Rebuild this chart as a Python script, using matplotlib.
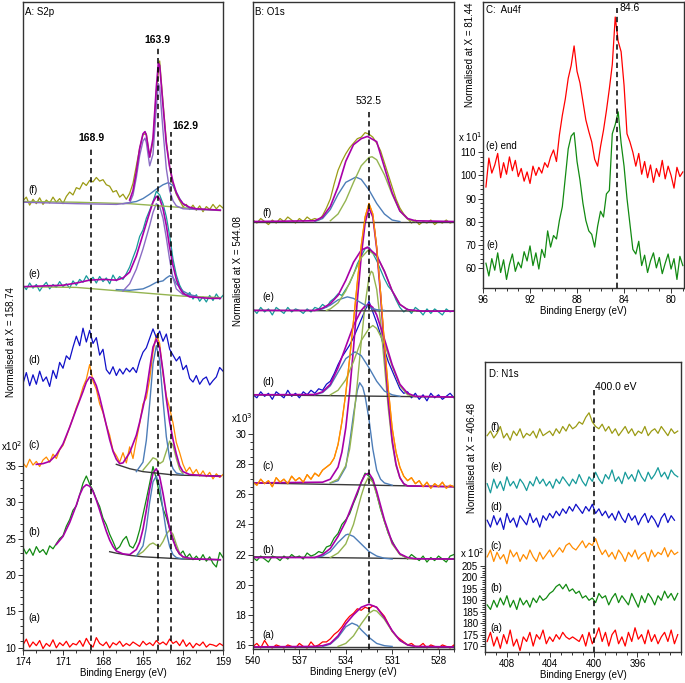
import numpy as np
import matplotlib.pyplot as plt
from matplotlib.ticker import FixedLocator

plt.rcParams['font.family'] = ['Liberation Sans', 'DejaVu Sans']
plt.rcParams['font.size'] = 7

C_RED, C_GRN, C_ORA, C_BLU, C_TEA, C_OLI = '#ff0000', '#128a12', '#ff8c00', '#1010c8', '#179b9b', '#9b9b14'
C_ENV, C_VIO, C_CB, C_CG, C_BKG = '#a800a8', '#8a6cc4', '#4d7db8', '#94b450', '#3a3a3a'

# ---------------- A: S2p  (spectra every 0.25 eV, 174 -> 159)
s2p_a = [10.4, 11.2, 10.1, 10.8, 10.3, 11.0, 9.9, 10.6, 10.2, 11.1, 10.0, 10.7, 10.3, 10.9, 10.1, 10.6, 10.4, 11.0, 10.2, 11.3,
         10.5, 10.1, 11.4, 10.6, 10.3, 10.8, 10.0, 10.7, 10.4, 10.9, 10.2, 10.6, 10.3, 10.8, 10.5, 10.2, 10.9, 10.4, 10.7, 10.3,
         11.0, 10.5, 10.8, 10.4, 11.2, 10.6, 10.9, 10.3, 11.1, 10.2, 10.7, 10.0, 10.6, 10.3, 10.8, 10.1, 10.5, 10.4, 10.2, 10.6, 10.3]
s2p_b = [23.8, 22.9, 23.6, 22.7, 23.9, 23.1, 23.5, 22.8, 24.0, 23.6, 24.3, 25.0, 25.4, 26.7, 27.6, 28.9, 29.5, 31.0, 32.6, 33.6,
         32.5, 31.6, 30.4, 29.4, 27.8, 26.9, 25.6, 24.6, 23.5, 23.9, 24.8, 25.3, 24.0, 23.7, 24.6, 26.2, 28.3, 30.4, 32.6, 34.9,
         33.2, 31.0, 29.1, 27.9, 26.3, 25.0, 23.6, 22.8, 23.3, 22.4, 22.9, 22.1, 22.6, 22.0, 22.8, 21.9, 22.5, 21.6, 21.1, 23.1, 22.4]
s2p_c = [35.4, 34.8, 35.9, 35.1, 35.6, 34.9, 35.8, 36.2, 35.5, 36.6, 36.0, 37.2, 37.8, 39.0, 40.3, 41.6, 43.0, 44.2, 45.8, 46.9,
         48.9, 46.6, 45.5, 43.5, 42.3, 40.6, 39.2, 37.1, 36.4, 35.5, 36.8, 35.4, 37.6, 36.0, 38.5, 40.8, 43.5, 44.3, 46.9, 50.6,
         53.0, 51.8, 47.6, 44.6, 42.9, 40.9, 38.2, 36.8, 35.2, 34.2, 34.8, 33.9, 34.5, 33.6, 34.3, 33.5, 34.1, 33.2, 33.9, 33.4, 33.8]
s2p_d = [46.3, 47.8, 46.0, 47.5, 46.2, 48.0, 46.6, 47.2, 45.9, 48.1, 47.0, 49.2, 48.4, 50.1, 49.6, 51.3, 52.8, 51.5, 53.9, 52.0,
         53.6, 51.8, 52.6, 50.2, 51.0, 48.2, 47.6, 48.6, 47.4, 48.3, 47.6, 48.4, 47.9, 48.5, 47.8, 49.4, 50.6, 51.2, 52.5, 53.8,
         52.6, 53.5, 52.1, 53.1, 51.0, 50.2, 49.4, 50.0, 48.2, 48.8, 47.0, 46.5, 47.4, 46.2, 46.9, 47.2, 46.1, 46.7, 47.2, 48.5, 48.0]
s2p_e = [59.8, 59.2, 60.1, 59.4, 59.9, 59.0, 59.7, 60.2, 59.3, 59.9, 59.5, 60.3, 59.6, 60.0, 59.4, 60.4, 59.8, 60.6, 60.2, 61.1,
         60.4, 60.9, 60.1, 61.0, 60.3, 60.8, 60.0, 61.2, 60.4, 61.0, 60.6, 61.4, 62.3, 63.6, 64.8, 66.5, 67.4, 69.0, 70.1, 71.3,
         72.7, 72.2, 71.0, 69.2, 66.6, 63.4, 61.2, 59.8, 58.9, 58.3, 58.8, 57.9, 58.5, 57.6, 58.2, 57.5, 58.4, 57.7, 58.6, 57.9, 58.4]
s2p_f = [71.4, 71.9, 70.8, 71.6, 71.0, 71.8, 70.9, 71.5, 71.1, 71.9, 71.2, 71.7, 71.0, 72.0, 72.6, 72.2, 73.2, 73.0, 73.9, 73.5,
         74.2, 74.0, 74.6, 74.1, 74.3, 73.6, 73.4, 72.6, 72.8, 71.9, 72.3, 71.6, 72.4, 73.8, 76.2, 78.6, 80.5, 80.6, 77.4, 79.5,
         86.5, 90.6, 85.0, 79.6, 76.0, 73.6, 72.3, 71.4, 70.6, 70.9, 70.2, 70.8, 70.1, 70.7, 69.9, 70.6, 70.2, 70.9, 70.3, 70.8, 70.4]

# fitted curves (energy list, intensity list)
s2p_b_bkg = ([167.5, 167, 166, 165, 164, 163, 162, 159.2], [23.2, 23.0, 22.7, 22.5, 22.4, 22.3, 22.2, 22.1])
s2p_b_env = ([171.5, 171, 170.5, 170, 169.75, 169.5, 169.25, 169, 168.75, 168.5, 168.25, 168, 167.75, 167.5, 167.25, 167,
              166.5, 166, 165.5, 165.25, 165, 164.75, 164.5, 164.25, 164, 163.75, 163.5, 163.25, 163, 162.75, 162.5, 162.25,
              162, 161.5, 161, 160, 159.2],
             [24.2, 25.3, 27.2, 29.6, 31.0, 32.0, 32.4, 32.2, 31.5, 30.3, 28.9, 27.4, 26.0, 24.8, 23.9, 23.3, 22.9, 22.8, 23.5,
              24.5, 26.3, 28.9, 31.8, 34.0, 34.6, 33.5, 31.2, 28.6, 26.4, 24.8, 23.6, 22.9, 22.5, 22.3, 22.2, 22.15, 22.1])
s2p_b_p1 = ([165.5, 165, 164.75, 164.5, 164.25, 164, 163.75, 163.5, 163.25, 163, 162.75, 162.5, 162],
            [22.6, 24.0, 26.5, 30.0, 32.8, 33.6, 32.2, 29.0, 25.9, 23.9, 22.8, 22.4, 22.2])
s2p_b_p2 = ([165.5, 165, 164.5, 164.25, 164, 163.75, 163.5, 163.25, 163, 162.75, 162.5, 162.25, 162],
            [22.6, 23.2, 24.2, 24.4, 24.1, 23.9, 24.6, 25.6, 26.2, 25.6, 24.2, 23.0, 22.4])

s2p_c_bkg = ([167, 166, 165, 164, 163, 162, 159.2], [35.2, 34.6, 34.2, 34.0, 33.8, 33.7, 33.6])
s2p_c_env = ([173, 172.5, 172, 171.5, 171, 170.5, 170, 169.5, 169.25, 169, 168.75, 168.5, 168.25, 168, 167.5, 167.25, 167,
              166.75, 166.5, 166, 165.5, 165.25, 165, 164.75, 164.5, 164.25, 164, 163.75, 163.5, 163.25, 163, 162.75, 162.5,
              162.25, 162, 161.5, 160, 159.2],
             [35.2, 35.3, 35.6, 36.5, 38.0, 40.3, 42.8, 45.2, 46.5, 47.2, 47.0, 46.0, 44.4, 42.5, 38.6, 37.0, 35.9, 35.3, 35.4,
              36.8, 39.2, 41.0, 43.0, 45.2, 48.3, 51.3, 52.4, 51.2, 48.0, 44.2, 41.0, 38.6, 36.6, 35.0, 34.2, 33.8, 33.6, 33.55])
s2p_c_p1 = ([165.5, 165, 164.75, 164.5, 164.25, 164, 163.75, 163.5, 163.25, 163, 162.75, 162.5, 162],
            [34.2, 35.5, 38.5, 43.5, 49.0, 51.5, 49.5, 44.0, 39.0, 36.0, 34.6, 34.0, 33.8])
s2p_c_p2 = ([165, 164.5, 164.25, 164, 163.75, 163.5, 163.25, 163, 162.75, 162.5, 162.25, 162],
            [34.4, 35.5, 36.1, 35.9, 35.3, 35.6, 37.0, 38.4, 37.8, 36.0, 34.5, 33.9])

s2p_e_bkg = ([174, 170, 168, 166, 164, 162, 159.2], [59.6, 59.5, 59.2, 58.9, 58.6, 58.3, 58.1])
s2p_e_env = ([174, 171, 170, 169, 168, 167, 166.5, 166, 165.5, 165, 164.5, 164.25, 164, 163.75, 163.5, 163.25, 163, 162.75,
              162.5, 162.25, 162, 161.5, 160, 159.2],
             [59.6, 59.8, 60.1, 60.5, 60.6, 60.5, 60.8, 61.6, 63.8, 66.8, 69.8, 71.2, 72.0, 71.7, 70.3, 68.0, 65.0, 62.5, 60.6,
              59.4, 58.7, 58.2, 58.0, 58.0])
s2p_e_p1 = ([166.5, 166, 165.5, 165, 164.5, 164.25, 164, 163.75, 163.5, 163.25, 163, 162.75, 162.5, 162, 161],
            [59.0, 60.0, 62.0, 64.8, 68.0, 69.8, 71.0, 70.6, 69.0, 66.3, 63.3, 60.8, 59.3, 58.5, 58.2])
s2p_e_p2 = ([167, 166, 165, 164.5, 164, 163.5, 163.25, 163, 162.75, 162.5, 162, 161.5, 161],
            [59.2, 59.1, 59.3, 59.7, 60.2, 60.4, 60.8, 61.1, 60.9, 60.0, 59.0, 58.5, 58.3])

s2p_f_bkg = ([174, 170, 166, 163, 160, 159.2], [71.3, 71.2, 71.0, 70.6, 70.15, 70.05])
s2p_f_env = ([166, 165.75, 165.5, 165.25, 165, 164.85, 164.75, 164.5, 164.25, 164, 163.85, 163.75, 163.5, 163.25, 163,
              162.75, 162.5, 162.25, 162, 161.5, 161, 160, 159.2],
             [71.5, 72.8, 75.4, 78.6, 80.6, 80.9, 80.4, 77.4, 80.0, 87.0, 90.3, 90.0, 84.5, 79.2, 76.0, 74.0, 72.5, 71.6,
              71.0, 70.5, 70.3, 70.2, 70.1])
s2p_f_p1 = ([174, 170, 167, 166, 165.75, 165.5, 165.25, 165, 164.85, 164.75, 164.5, 164.25, 164, 163.85, 163.75, 163.5,
             163.25, 163, 162.75, 162.5, 162, 161, 159.2],
            [71.2, 71.0, 70.9, 71.1, 72.2, 74.6, 77.6, 79.6, 80.0, 79.4, 76.2, 77.8, 84.2, 87.5, 87.0, 81.0, 75.8, 72.8,
             71.4, 70.7, 70.3, 70.2, 70.1])
s2p_f_p2 = ([166.5, 165.5, 165, 164.5, 164, 163.5, 163.1, 162.75, 162.5, 162.25, 162, 161.5, 161],
            [71.0, 71.3, 71.7, 72.3, 73.0, 73.6, 73.9, 73.5, 72.6, 71.7, 71.0, 70.4, 70.2])

s2p_peaks = [168.9, 163.9, 162.9]
s2p_peak_tops = [78.8, 92.5, 80.85]

# ---------------- B: O1s  (spectra every 0.25 eV, 540 -> 527)
o1s_a = [15.9, 16.1, 15.8, 16.3, 15.9, 15.8, 16.0, 15.9, 15.8, 16.0, 15.9, 15.8, 16.1, 15.9, 15.8, 16.2, 15.9, 16.0,
         16.2, 16.2, 16.4, 16.7, 16.9, 17.2, 17.6, 17.9, 18.1, 18.4, 18.3, 18.5, 18.4, 18.6, 18.5, 18.2, 17.9, 17.4,
         16.9, 16.6, 16.4, 16.2, 16.0, 16.1, 15.9, 15.9, 16.1, 15.8, 16.0, 15.9, 15.8, 16.0, 15.9, 15.8, 16.0]
o1s_b = [21.8, 21.6, 21.9, 21.7, 21.5, 21.9, 21.8, 21.6, 21.9, 21.7, 22.0, 21.8, 21.9, 21.7, 22.1, 21.9, 22.0, 22.2,
         22.1, 22.5, 22.6, 23.1, 23.4, 24.0, 24.3, 24.7, 25.4, 26.0, 26.8, 27.4, 27.2, 26.9, 26.0, 25.0, 24.2, 23.4,
         22.9, 22.4, 22.0, 21.9, 21.7, 22.0, 21.8, 21.6, 21.9, 21.5, 21.8, 21.6, 21.9, 21.7, 21.5, 21.9, 22.0]
o1s_c = [26.8, 26.6, 27.0, 26.7, 26.9, 26.5, 27.1, 26.8, 27.0, 26.7, 27.2, 26.9, 27.1, 26.8, 27.3, 27.0, 27.4, 27.2,
         27.6, 27.8, 28.0, 28.4, 29.3, 30.8, 32.7, 35.0, 37.5, 40.1, 42.5, 44.4, 45.3, 44.6, 42.4, 39.4, 36.0, 33.0,
         30.4, 28.8, 27.8, 27.2, 26.9, 27.1, 26.7, 26.9, 26.5, 26.8, 26.4, 26.7, 26.5, 26.8, 26.4, 26.6, 26.5]
o1s_d = [32.6, 32.4, 32.8, 32.5, 32.7, 32.3, 32.8, 32.6, 32.4, 32.9, 32.5, 32.7, 32.4, 32.8, 32.6, 32.9, 32.7, 33.0,
         32.9, 33.3, 33.5, 34.0, 34.6, 35.1, 35.5, 35.9, 36.4, 37.0, 37.6, 38.2, 38.8, 38.1, 37.4, 36.6, 35.6, 34.8,
         34.2, 33.6, 33.0, 32.7, 32.8, 32.4, 32.7, 32.3, 32.6, 32.2, 32.7, 32.4, 32.6, 32.3, 32.5, 32.7, 32.4]
o1s_e = [38.3, 38.0, 38.4, 38.1, 38.3, 37.9, 38.4, 38.2, 38.0, 38.4, 38.1, 38.3, 38.2, 38.0, 38.3, 38.1, 38.4, 38.3,
         38.6, 38.4, 38.8, 39.0, 39.3, 39.2, 39.6, 40.0, 40.6, 41.3, 41.8, 42.3, 42.4, 42.0, 41.5, 40.9, 40.3, 39.8,
         39.5, 38.9, 38.4, 38.1, 38.3, 38.0, 38.4, 38.2, 37.9, 38.3, 38.0, 38.3, 38.1, 37.9, 38.3, 38.1, 38.2]
o1s_f = [44.2, 44.0, 44.3, 44.1, 43.9, 44.2, 44.0, 44.3, 44.1, 44.4, 44.2, 44.0, 44.3, 44.1, 44.4, 44.2, 44.3, 44.2,
         44.5, 45.0, 45.6, 46.6, 47.5, 48.1, 48.6, 49.0, 49.3, 49.6, 49.7, 50.0, 49.9, 49.7, 49.3, 48.8, 48.0, 47.2,
         46.4, 45.6, 45.0, 44.6, 44.3, 44.0, 44.2, 43.9, 44.1, 44.0, 44.2, 43.9, 44.1, 44.0, 44.2, 44.0, 44.1]

o1s_fits = {
    'a': dict(bkg=([540, 527], [15.87, 15.87]),
              env=([540, 536, 535.5, 535, 534.5, 534, 533.5, 533, 532.5, 532, 531.5, 531, 530.5, 530, 529.5, 527],
                   [15.87, 15.9, 15.95, 16.1, 16.6, 17.4, 18.0, 18.5, 18.7, 18.5, 17.8, 16.95, 16.3, 16.0, 15.9, 15.87]),
              p1=([535.5, 535, 534.5, 534, 533.6, 533.25, 533, 532.5, 532, 531.5, 531],
                  [15.9, 16.05, 16.5, 17.2, 17.45, 17.3, 17.0, 16.5, 16.1, 15.95, 15.9]),
              p2=([534.5, 534, 533.5, 533, 532.5, 532.2, 532, 531.5, 531, 530.5, 530, 529.5],
                  [15.9, 16.1, 16.6, 17.4, 18.1, 18.3, 18.25, 17.7, 16.9, 16.3, 16.0, 15.9])),
    'b': dict(bkg=([540, 527], [21.85, 21.7]),
              env=([540, 536, 535.5, 535, 534.5, 534, 533.5, 533, 532.75, 532.5, 532.25, 532, 531.5, 531, 530.5, 530, 529.5, 527],
                   [21.8, 21.8, 22.0, 22.4, 23.2, 24.2, 25.5, 26.8, 27.3, 27.4, 27.0, 26.2, 24.3, 22.8, 22.05, 21.8, 21.72, 21.7]),
              p1=([536, 535.5, 535, 534.5, 534, 533.85, 533.5, 533, 532.5, 532, 531.5, 531],
                  [21.8, 21.9, 22.2, 22.8, 23.3, 23.35, 23.2, 22.7, 22.2, 21.9, 21.75, 21.7]),
              p2=([535, 534.5, 534, 533.5, 533, 532.75, 532.55, 532.25, 532, 531.5, 531, 530.5, 530, 529.5],
                  [21.8, 22.1, 22.7, 24.0, 25.9, 26.7, 27.1, 26.8, 26.0, 24.2, 22.7, 22.0, 21.75, 21.7])),
    'c': dict(bkg=([540, 527], [26.75, 26.5]),
              env=([540, 535.5, 535, 534.5, 534.25, 534, 533.75, 533.5, 533.25, 533, 532.75, 532.5, 532.25, 532, 531.75,
                    531.5, 531.25, 531, 530.75, 530.5, 530.25, 530, 527],
                   [26.75, 26.8, 27.0, 27.8, 28.8, 30.4, 32.8, 35.7, 38.9, 41.8, 44.0, 45.0, 44.4, 42.3, 39.2, 35.6, 32.2,
                    29.6, 28.0, 27.1, 26.7, 26.55, 26.5]),
              p1=([535, 534.5, 534, 533.75, 533.5, 533.25, 533.1, 532.9, 532.75, 532.5, 532.25, 532, 531.75, 531.5, 531],
                  [26.75, 26.9, 27.8, 29.4, 31.3, 32.9, 33.4, 33.1, 32.5, 31.0, 29.0, 27.6, 27.0, 26.75, 26.6]),
              p2=([535, 534.5, 534, 533.75, 533.5, 533.25, 533, 532.75, 532.5, 532.35, 532.25, 532, 531.75, 531.5, 531.25,
                   531, 530.75, 530.5, 530.25, 530],
                  [26.75, 27.0, 27.9, 29.0, 30.9, 33.4, 36.1, 38.6, 40.4, 40.8, 40.7, 39.6, 37.4, 34.6, 31.7, 29.4, 27.9,
                   27.1, 26.7, 26.55])),
    'd': dict(bkg=([540, 527], [32.6, 32.45]),
              env=([540, 536, 535.5, 535, 534.5, 534, 533.5, 533, 532.75, 532.5, 532.25, 532, 531.5, 531, 530.5, 530, 529.5, 527],
                   [32.6, 32.62, 32.8, 33.3, 34.4, 35.8, 37.2, 38.2, 38.5, 38.6, 38.4, 37.9, 36.3, 34.6, 33.3, 32.7, 32.5, 32.45]),
              p1=([536, 535.5, 535, 534.5, 534, 533.4, 533, 532.5, 532, 531.5, 531, 530.5],
                  [32.6, 32.75, 33.2, 34.1, 35.0, 35.45, 35.2, 34.4, 33.5, 32.85, 32.6, 32.5]),
              p2=([535, 534.5, 534, 533.5, 533, 532.5, 532.25, 532, 531.5, 531, 530.5, 530, 529.5],
                  [32.6, 32.9, 33.6, 34.8, 36.2, 37.0, 37.2, 37.0, 36.0, 34.5, 33.2, 32.6, 32.5])),
    'e': dict(bkg=([540, 527], [38.2, 38.15]),
              env=([540, 536, 535.5, 535, 534.5, 534, 533.5, 533, 532.6, 532, 531.5, 531, 530.5, 530, 529, 527],
                   [38.2, 38.2, 38.35, 38.65, 39.2, 40.2, 41.4, 42.2, 42.4, 41.85, 40.8, 39.5, 38.6, 38.25, 38.15, 38.15]),
              p1=([536, 535.5, 535, 534.5, 533.9, 533.5, 533, 532.5, 532, 531.5],
                  [38.2, 38.3, 38.55, 38.9, 39.1, 39.0, 38.7, 38.4, 38.25, 38.2]),
              p2=([535.25, 535, 534.5, 534, 533.5, 533, 532.55, 532, 531.5, 531, 530.5, 530, 529.5],
                  [38.2, 38.3, 38.7, 39.5, 40.6, 41.7, 42.2, 41.8, 40.8, 39.5, 38.6, 38.25, 38.15])),
    'f': dict(bkg=([540, 527], [44.1, 44.1]),
              env=([540, 536, 535.5, 535, 534.5, 534, 533.5, 533, 532.6, 532, 531.5, 531, 530.5, 530, 529.5, 527],
                   [44.1, 44.15, 44.4, 45.1, 46.4, 48.1, 49.2, 49.6, 49.75, 49.4, 47.7, 46.0, 44.8, 44.3, 44.15, 44.1]),
              p1=([536, 535.5, 535, 534.5, 534, 533.35, 533, 532.5, 532, 531.5, 531, 530.5],
                  [44.1, 44.3, 44.9, 45.9, 46.7, 47.05, 46.9, 46.2, 45.3, 44.6, 44.2, 44.1]),
              p2=([535, 534.5, 534, 533.5, 533, 532.5, 532.3, 532, 531.5, 531, 530.5, 530, 529.5],
                  [44.15, 44.6, 45.5, 46.7, 47.8, 48.35, 48.4, 48.2, 47.2, 45.9, 44.8, 44.25, 44.1])),
}
o1s_peak, o1s_peak_top = 532.5, 51.6

# ---------------- C: Au4f  (every 0.25 eV, 95.75 -> 79)
au_end = [95.0, 107.5, 101.0, 104.5, 109.5, 99.0, 105.5, 100.5, 108.0, 102.0, 106.5, 99.5, 103.0, 97.5, 101.5, 96.5, 104.0,
          100.0, 103.5, 101.0, 105.5, 103.5, 108.0, 111.0, 106.0, 117.5, 126.0, 133.0, 142.0, 147.5, 156.0, 145.0, 140.0,
          132.0, 124.0, 119.0, 114.5, 107.0, 104.0, 112.5, 119.5, 128.0, 137.5, 148.0, 168.5, 158.0, 153.5, 139.0, 118.0,
          114.5, 110.0, 104.0, 109.5, 100.5, 106.0, 99.0, 104.5, 97.0, 103.0, 99.5, 106.5, 98.5, 104.0, 100.0, 94.5, 103.5,
          99.5, 101.5]
au_e = [62.0, 56.5, 64.0, 59.0, 66.5, 58.0, 63.5, 55.0, 61.5, 66.0, 58.5, 62.5, 60.0, 67.0, 63.0, 69.5, 61.0, 66.5, 59.5,
        68.0, 64.5, 76.0, 69.0, 74.0, 72.5, 80.5, 86.5, 99.0, 111.5, 117.0, 118.5, 106.0, 98.0, 88.0, 80.5, 76.0, 74.5, 69.0,
        78.0, 84.5, 82.0, 92.0, 93.5, 118.0, 122.0, 127.5, 114.0, 104.0, 90.0, 79.0, 68.0, 66.0, 71.5, 61.0, 65.5, 58.0,
        63.0, 66.5, 60.0, 64.5, 57.5, 62.0, 66.0, 59.5, 64.0, 55.0, 65.0, 61.0]
au_peak, au_peak_top = 84.6, 172.2

# ---------------- D: N1s  (409.8 -> 392.3, d ends at 392.6)
n1s_a = [172, 176, 170, 174, 169, 175, 171, 177, 170, 173, 168, 174, 172, 176, 170, 175, 173, 177, 171, 174, 172, 175, 173,
         176, 174, 173, 174, 173, 172, 175, 170, 176, 171, 174, 178, 172, 176, 170, 175, 177, 171, 174, 170, 176, 172, 178,
         173, 175, 171, 177, 172, 175, 171, 174, 176, 172, 177, 171, 175]
n1s_b = [188, 186, 190, 187, 191, 188, 192, 187, 190, 186, 191, 188, 190, 187, 191, 189, 192, 190, 191, 193, 194, 196, 197,
         195, 197, 194, 195, 193, 194, 191, 192, 190, 191, 189, 193, 191, 192, 188, 191, 193, 189, 192, 190, 188, 193, 190,
         187, 192, 189, 193, 191, 188, 192, 190, 194, 191, 193, 190, 193]
n1s_c = [209, 212, 207, 211, 208, 210, 206, 212, 209, 211, 207, 210, 208, 212, 209, 207, 211, 208, 210, 212, 209, 211, 213,
         211, 214, 215, 213, 212, 214, 216, 213, 215, 214, 217, 213, 210, 212, 209, 211, 208, 212, 210, 207, 211, 209, 212,
         208, 210, 211, 207, 212, 209, 211, 210, 213, 209, 212, 210, 211]
n1s_d = [225, 222, 227, 223, 226, 221, 228, 224, 226, 222, 227, 225, 223, 228, 224, 226, 222, 227, 225, 228, 226, 229, 227,
         230, 228, 231, 229, 232, 230, 228, 231, 229, 232, 228, 230, 227, 229, 226, 228, 225, 229, 226, 224, 228, 225, 227,
         223, 226, 228, 224, 227, 225, 222, 226, 228, 224, 227, 225]
n1s_e = [241, 237, 243, 239, 242, 238, 244, 240, 242, 239, 243, 241, 238, 242, 240, 244, 241, 243, 240, 242, 239, 243, 241,
         244, 242, 240, 243, 241, 245, 242, 240, 244, 242, 246, 243, 241, 245, 243, 247, 242, 244, 241, 246, 243, 245, 242,
         247, 244, 242, 246, 243, 245, 248, 244, 246, 243, 247, 245, 244]
n1s_f = [262, 264, 261, 263, 266, 261, 263, 260, 264, 262, 265, 261, 263, 262, 264, 261, 265, 262, 263, 264, 262, 265, 263,
         266, 264, 267, 265, 266, 268, 267, 270, 272, 268, 266, 265, 267, 264, 266, 263, 265, 262, 264, 266, 263, 265, 262,
         264, 263, 266, 262, 264, 265, 263, 266, 264, 262, 265, 263, 264]
n1s_peak, n1s_peak_top = 400.0, 282.0

# ---------------------------------------------------------------
W, H = 685, 683
fig = plt.figure(figsize=(W / 100, H / 100), dpi=100)


def px_axes(x0, y0, x1, y1):
    return fig.add_axes([x0 / W, 1 - y1 / H, (x1 - x0) / W, (y1 - y0) / H])


def spectrum(ax, lo, hi, ys, color):
    ax.plot(np.linspace(lo, hi, len(ys)), ys, color=color, lw=0.9)


def curve(ax, xy, color, lw=1.0):
    ax.plot(xy[0], xy[1], color=color, lw=lw)


def style(ax, xlim, ylim, xmaj, xmin, ymaj, ymin):
    ax.set_xlim(*xlim)
    ax.set_ylim(*ylim)
    ax.xaxis.set_major_locator(FixedLocator(xmaj))
    ax.xaxis.set_minor_locator(FixedLocator(xmin))
    ax.yaxis.set_major_locator(FixedLocator(ymaj))
    ax.yaxis.set_minor_locator(FixedLocator(ymin))
    ax.tick_params(which='both', direction='out', width=0.7, labelsize=7, pad=1.5, color='#333333')
    ax.tick_params(which='major', length=3.5)
    ax.tick_params(which='minor', length=2)
    for s in ax.spines.values():
        s.set_linewidth(1.0)
        s.set_color('#333333')
    ax.set_xlabel('Binding Energy (eV)', fontsize=7, labelpad=1)


def ftext(x, y, s):
    fig.text(x / W, 1 - y / H, s, fontsize=7, va='center', ha='left')


# ---- A
axA = px_axes(23, 2, 223, 650)
for ys, c in [(s2p_a, C_RED), (s2p_b, C_GRN), (s2p_c, C_ORA), (s2p_d, C_BLU), (s2p_e, C_TEA), (s2p_f, C_OLI)]:
    spectrum(axA, 174, 159, ys, c)
for bkg, env, p1, p2, c1 in [(s2p_b_bkg, s2p_b_env, s2p_b_p1, s2p_b_p2, C_CB),
                             (s2p_c_bkg, s2p_c_env, s2p_c_p1, s2p_c_p2, C_CB),
                             (s2p_e_bkg, s2p_e_env, s2p_e_p1, s2p_e_p2, C_VIO),
                             (s2p_f_bkg, s2p_f_env, s2p_f_p1, s2p_f_p2, C_VIO)]:
    curve(axA, bkg, C_BKG if c1 == C_CB else C_CG)
    curve(axA, p2, C_CG if c1 == C_CB else C_CB)
    curve(axA, p1, c1)
    curve(axA, env, C_ENV, 1.2)
style(axA, (174, 159), (9.7, 98.7), [174, 171, 168, 165, 162, 159], np.arange(159, 174.5, 1),
      [10, 15, 20, 25, 30, 35], np.arange(10, 35.5, 1))
axA.vlines(s2p_peaks, 9.7, s2p_peak_tops, colors='k', linestyles=(0, (3.5, 2.5)), lw=1.1)
axA.text(s2p_peaks[0], s2p_peak_tops[0] + 0.5, f'{s2p_peaks[0]:.1f}', ha='center', va='bottom', fontsize=7.5, fontweight='bold')
axA.text(s2p_peaks[1], s2p_peak_tops[1] + 0.3, f'{s2p_peaks[1]:.1f}', ha='center', va='bottom', fontsize=7.5, fontweight='bold')
axA.text(s2p_peaks[2] - 0.1, s2p_peak_tops[2] + 0.1, f'{s2p_peaks[2]:.1f}', ha='left', va='bottom', fontsize=7.5, fontweight='bold')
for lab, yv in zip('abcdef', [14.1, 25.9, 37.9, 49.5, 61.35, 72.9]):
    axA.text(173.6, yv, f'({lab})', fontsize=7, va='center', ha='left')
axA.text(0.012, 0.993, 'A: S2p', transform=axA.transAxes, fontsize=7, va='top')
axA.set_ylabel('Normalised at X = 158.74', fontsize=7)
axA.yaxis.set_label_coords(-0.035, 0.475)
ftext(1, 446, 'x10$^2$')

# ---- B
axB = px_axes(253, 2, 454, 649)
for key, ys, c in [('a', o1s_a, C_RED), ('b', o1s_b, C_GRN), ('c', o1s_c, C_ORA),
                   ('d', o1s_d, C_BLU), ('e', o1s_e, C_TEA), ('f', o1s_f, C_OLI)]:
    spectrum(axB, 540, 527, ys, c)
for key in 'abcdef':
    fit = o1s_fits[key]
    curve(axB, fit['bkg'], C_BKG)
    curve(axB, fit['p1'], C_CB)
    curve(axB, fit['p2'], C_CG)
    curve(axB, fit['env'], C_ENV, 1.2)
spectrum(axB, 540, 527, o1s_c, C_ORA)
style(axB, (540, 527), (15.73, 58.67), [540, 537, 534, 531, 528], np.arange(527, 540.5, 1),
      list(range(16, 31, 2)), np.arange(16, 30.25, 0.5))
axB.vlines(o1s_peak, 15.73, o1s_peak_top, colors='k', linestyles=(0, (3.5, 2.5)), lw=1.1)
axB.text(o1s_peak, o1s_peak_top + 0.2, f'{o1s_peak:.1f}', ha='center', va='bottom', fontsize=7.5)
for lab, yv in zip('abcdef', [16.66, 22.3, 27.9, 33.45, 39.1, 44.67]):
    axB.text(539.42, yv, f'({lab})', fontsize=7, va='center', ha='left')
axB.text(0.012, 0.993, 'B: O1s', transform=axB.transAxes, fontsize=7, va='top')
axB.set_ylabel('Normalised at X = 544.08', fontsize=7)
axB.yaxis.set_label_coords(-0.05, 0.584)
ftext(231, 418, 'x10$^3$')

# ---- C
axC = px_axes(483, 2, 684, 288)
spectrum(axC, 95.75, 79, au_end, C_RED)
spectrum(axC, 95.75, 79, au_e, C_GRN)
style(axC, (96, 78.9), (51.3, 175), [96, 92, 88, 84, 80], np.arange(79, 96.5, 1),
      [60, 70, 80, 90, 100, 110], np.arange(60, 110.5, 2))
axC.vlines(au_peak, 51.3, au_peak_top, colors='k', linestyles=(0, (3.5, 2.5)), lw=1.1)
axC.text(au_peak - 0.25, au_peak_top, f'{au_peak:.1f}', ha='left', va='center', fontsize=7.5)
axC.text(95.75, 112.6, '(e) end', fontsize=7, va='center', ha='left')
axC.text(95.75, 70.0, '(e)', fontsize=7, va='center', ha='left')
axC.text(0.015, 0.99, 'C:  Au4f', transform=axC.transAxes, fontsize=7, va='top')
axC.set_ylabel('Normalised at X = 81.44', fontsize=7)
axC.yaxis.set_label_coords(-0.04, 0.815)
ftext(458, 137, 'x 10$^1$')

# ---- D
axD = px_axes(485, 362, 681, 652)
for ys, c in [(n1s_a, C_RED), (n1s_b, C_GRN), (n1s_c, C_ORA), (n1s_e, C_TEA), (n1s_f, C_OLI)]:
    spectrum(axD, 409.8, 392.3, ys, c)
spectrum(axD, 409.8, 392.6, n1s_d, C_BLU)
style(axD, (410, 392), (167.4, 294.2), [408, 404, 400, 396], np.arange(392, 410.5, 1),
      [170, 175, 180, 185, 190, 195, 200, 205], np.arange(170, 205.5, 1))
axD.vlines(n1s_peak, 167.4, n1s_peak_top, colors='k', linestyles=(0, (3.5, 2.5)), lw=1.1)
axD.text(n1s_peak - 0.1, n1s_peak_top + 1.3, f'{n1s_peak:.1f} eV', ha='left', va='center', fontsize=7.5)
for lab, yv in zip('abcdef', [177.9, 195.4, 213.7, 230.8, 248.3, 265.8]):
    axD.text(409.5, yv, f'({lab})', fontsize=7, va='center', ha='left')
axD.text(0.02, 0.975, 'D: N1s', transform=axD.transAxes, fontsize=7, va='top')
axD.set_ylabel('Normalised at X = 406.48', fontsize=7)
axD.yaxis.set_label_coords(-0.04, 0.669)
ftext(460, 553, 'x 10$^2$')

fig.savefig('out.png', dpi=100)
